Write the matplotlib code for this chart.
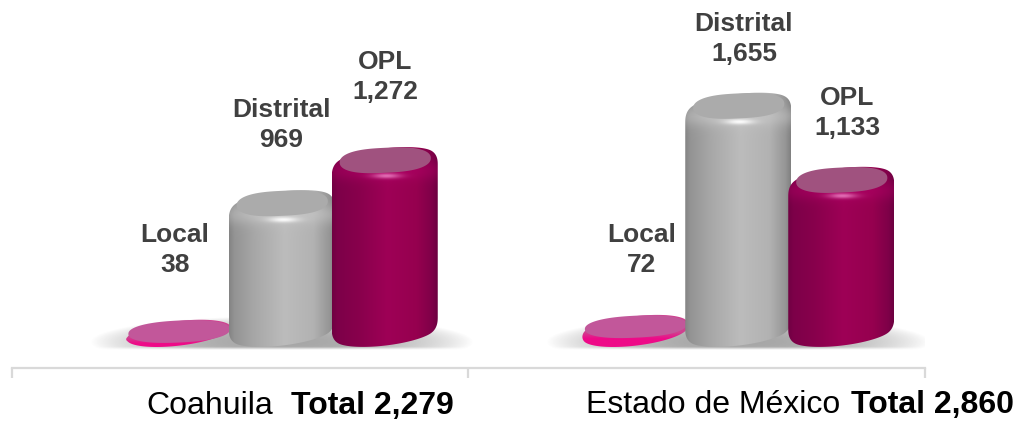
import numpy as np
import matplotlib
matplotlib.use("Agg")
import matplotlib.pyplot as plt
from matplotlib.patches import Polygon
from matplotlib.transforms import Affine2D

# ---- data ----
states = ["Coahuila", "Estado de México"]
totals = ["Total 2,279", "Total 2,860"]
series = ["Local", "Distrital", "OPL"]
local = [38, 72]
distrital = [969, 1655]
opl = [1272, 1133]

W_PX, H_PX = 1017, 421
plt.rcParams["font.family"] = ["Liberation Sans", "DejaVu Sans"]
fig = plt.figure(figsize=(W_PX / 100, H_PX / 100), dpi=100, facecolor="white")

AX_L, AX_R, AX_B = 12, 925, 368
ax = fig.add_axes([AX_L / W_PX, 1 - AX_B / H_PX, (AX_R - AX_L) / W_PX, AX_B / H_PX])
KY = 0.142  # pixels per unit
BASE_PX = 327.6  # pixel row of value 0
ax.set_xlim(-0.5, 1.5)
ax.set_ylim(-(AX_B - BASE_PX) / KY, BASE_PX / KY)
KX = (AX_R - AX_L) / 2.0  # pixels per group
ax.patch.set_alpha(0)
for s in ["top", "left", "right"]:
    ax.spines[s].set_visible(False)
ax.spines["bottom"].set_color("#d9d9d9")
ax.spines["bottom"].set_linewidth(1.6)
ax.set_yticks([])
ax.set_xticks([-0.5, 0.5, 1.5])
ax.set_xticklabels([])
ax.tick_params(axis="x", length=7.5, width=1.6, color="#d9d9d9", direction="out")

GROUP_SHIFT = 41.5 / KX
BAR_STEP = 103 / KX
HALF_W = 53.0
TILT = 6.0
B_ELL = 13.0
PEAK = np.hypot(B_ELL, TILT)
LOW_EXTRA = 19.4

STYLES = {
    "Local": dict(stops=["#d8007a", "#e6007e", "#ea0c84", "#e6007e", "#d8007a"],
                  top="#c2579a", rim="#d0408f", glow=0.0),
    "Distrital": dict(stops=["#8f8f8f", "#a8a8a8", "#bcbcbc", "#b2b2b2", "#8c8c8c"],
                      top="#ababab", rim="#c6c6c6", glow=0.95),
    "OPL": dict(stops=["#7a0048", "#88004c", "#9e0056", "#96004f", "#760046"],
                top="#a0527f", rim="#ab0062", glow=0.75),
}


def hex2rgb(h):
    return np.array(matplotlib.colors.to_rgb(h))


def arc(cx_px, cy_px, a, b, t):
    c, s = np.cos(t), np.sin(t)
    return cx_px + a * c, cy_px + b * s + TILT * (a / HALF_W) * c


def smooth_closed(x, y, win):
    """Resample a closed outline evenly and round its corners."""
    xc, yc = np.r_[x, x[0]], np.r_[y, y[0]]
    d = np.r_[0, np.cumsum(np.hypot(np.diff(xc), np.diff(yc)))]
    s = np.arange(0, d[-1], 0.5)
    xr, yr = np.interp(s, d, xc), np.interp(s, d, yc)
    n = max(int(win / 0.5), 1)
    kernel = np.ones(n) / n
    pad = n
    xp = np.convolve(np.r_[xr[-pad:], xr, xr[:pad]], kernel, mode="same")[pad:-pad]
    yp = np.convolve(np.r_[yr[-pad:], yr, yr[:pad]], kernel, mode="same")[pad:-pad]
    return xp, yp


def to_data(xpx, ypx):
    return xpx / KX, ypx / KY


def cylinder(xc, value, name, z):
    st = STYLES[name]
    xc_px = xc * KX
    is_disc = value * KY < 30
    lift = 2.5 if is_disc else 0.0
    top_px = value * KY + lift
    top_y = top_px - PEAK
    bot_y = -LOW_EXTRA + PEAK
    t_up = np.linspace(0, np.pi, 80)
    t_lo = np.linspace(np.pi, 2 * np.pi, 80)
    xu, yu = arc(xc_px, top_y, HALF_W, B_ELL, t_up)
    xl, yl = arc(xc_px, bot_y, HALF_W, B_ELL, t_lo)
    xo, yo = smooth_closed(np.r_[xu, xl], np.r_[yu, yl], 8 if is_disc else 20)
    xs, ys = to_data(xo, yo)
    clip = Polygon(np.c_[xs, ys], closed=True, transform=ax.transData, fc="none", ec="none")
    ax.add_patch(clip)

    y_hi = top_px + 2
    y_lo = -LOW_EXTRA - 2
    nx, ny = 220, max(int((y_hi - y_lo) * 2), 8)
    u = np.linspace(-1, 1, nx)
    yy = np.linspace(y_hi, y_lo, ny)
    stops = np.array([hex2rgb(c) for c in st["stops"]])
    pos = [-1, -0.5, 0.05, 0.6, 1]
    rgb = np.stack([np.interp(u, pos, stops[:, i]) for i in range(3)], axis=-1)
    img = np.repeat(rgb[None, :, :], ny, axis=0)
    U, Y = np.meshgrid(u, yy)
    depth = top_px - Y
    edge = np.clip((np.abs(U) - 0.9) / 0.1, 0, 1)[..., None]
    img = img * (1 - 0.08 * edge)
    rim = hex2rgb(st["rim"])
    if is_disc:
        w = np.clip((depth - 18) / 6, 0, 1)[..., None]
        img = rim * (1 - w) + hex2rgb("#ee0a88") * w
    else:
        band = np.exp(-((depth - 24) / 10.0) ** 2)[..., None] * (1 - 0.6 * np.abs(U))[..., None]
        img = img * (1 - band) + rim * band
        glow = np.exp(-((depth - 29.5) / 2.6) ** 2) * np.exp(-((U - 0.03) / 0.27) ** 2) * st["glow"]
        tone = np.array([1, 1, 1]) if name == "Distrital" else hex2rgb("#f590d0")
        img = img * (1 - glow[..., None]) + tone * glow[..., None]
    im = ax.imshow(img, extent=[(xc_px - HALF_W) / KX, (xc_px + HALF_W) / KX, y_lo / KY, y_hi / KY],
                   aspect="auto", interpolation="bilinear", zorder=z)
    im.set_clip_path(clip)

    # top face: slightly squared ellipse
    a_top = HALF_W * (0.96 if is_disc else 0.86)
    tt = np.linspace(0, 2 * np.pi, 160)
    b_top = 11.0 if is_disc else 12.5
    cy = top_px - (b_top + 0.8)
    c, s = np.cos(tt), np.sin(tt)
    sq = 0.85 if is_disc else 0.72
    cx_sq = np.sign(c) * np.abs(c) ** sq
    xt = xc_px + a_top * cx_sq + 0.5
    yt = cy + b_top * np.sign(s) * np.abs(s) ** 0.9 + 2.5 * (a_top / HALF_W) * cx_sq
    xd, yd = to_data(xt, yt)
    ax.add_patch(Polygon(np.c_[xd, yd], closed=True, fc=st["top"], ec="none",
                         zorder=z + 0.1))


def floor_shadow(xc):
    xc_px = xc * KX
    xs = np.linspace(-195, 195, 240)
    ys = np.linspace(16, -24, 80)
    X, Y = np.meshgrid(xs, ys)
    r = np.hypot(X / 192.0, (Y + 14) / 26.0)
    a = np.clip(1 - r ** 2.2, 0, 1) ** 0.9 * 0.6
    a = a * np.clip((Y + 22) / 3.0, 0, 1)
    rgba = np.zeros(X.shape + (4,))
    rgba[..., :3] = 0.42
    rgba[..., 3] = a
    ax.imshow(rgba, extent=[(xc_px - 195) / KX, (xc_px + 195) / KX, -24 / KY, 16 / KY],
              aspect="auto", interpolation="bilinear", zorder=1)


for i in range(len(states)):
    centre = i + GROUP_SHIFT
    floor_shadow(centre)
    vals = [local[i], distrital[i], opl[i]]
    for j, (name, v) in enumerate(zip(series, vals)):
        cylinder(centre + (j - 1) * BAR_STEP, v, name, 2 + j)

ax.set_xlim(-0.5, 1.5)
ax.set_ylim(-(AX_B - BASE_PX) / KY, BASE_PX / KY)

# ---- text, placed in figure pixels ----
px = Affine2D().scale(1 / W_PX, -1 / H_PX).translate(0, 1) + fig.transFigure
LABEL_PX = [[(175, 250), (281, 125), (385, 77)],
            [(642, 250), (744, 39), (847, 113)]]
INK = "#404040"
for i in range(len(states)):
    vals = [local[i], distrital[i], opl[i]]
    for j, name in enumerate(series):
        x, y = LABEL_PX[i][j]
        fig.text(x, y, f"{name}\n{vals[j]:,}", transform=px, ha="center", va="center",
                 fontsize=19, fontweight="bold", color=INK, linespacing=1.33, zorder=10)

NAME_PX = [(273, 414), (840, 413)]
TOTAL_PX = [(291, 414), (851, 413)]
for i, st_name in enumerate(states):
    fig.text(*NAME_PX[i], st_name, transform=px, ha="right", va="baseline", fontsize=23, color="black")
    fig.text(*TOTAL_PX[i], totals[i], transform=px, ha="left", va="baseline", fontsize=23,
             fontweight="bold", color="black")

fig.savefig("out.png", dpi=100, facecolor="white")
